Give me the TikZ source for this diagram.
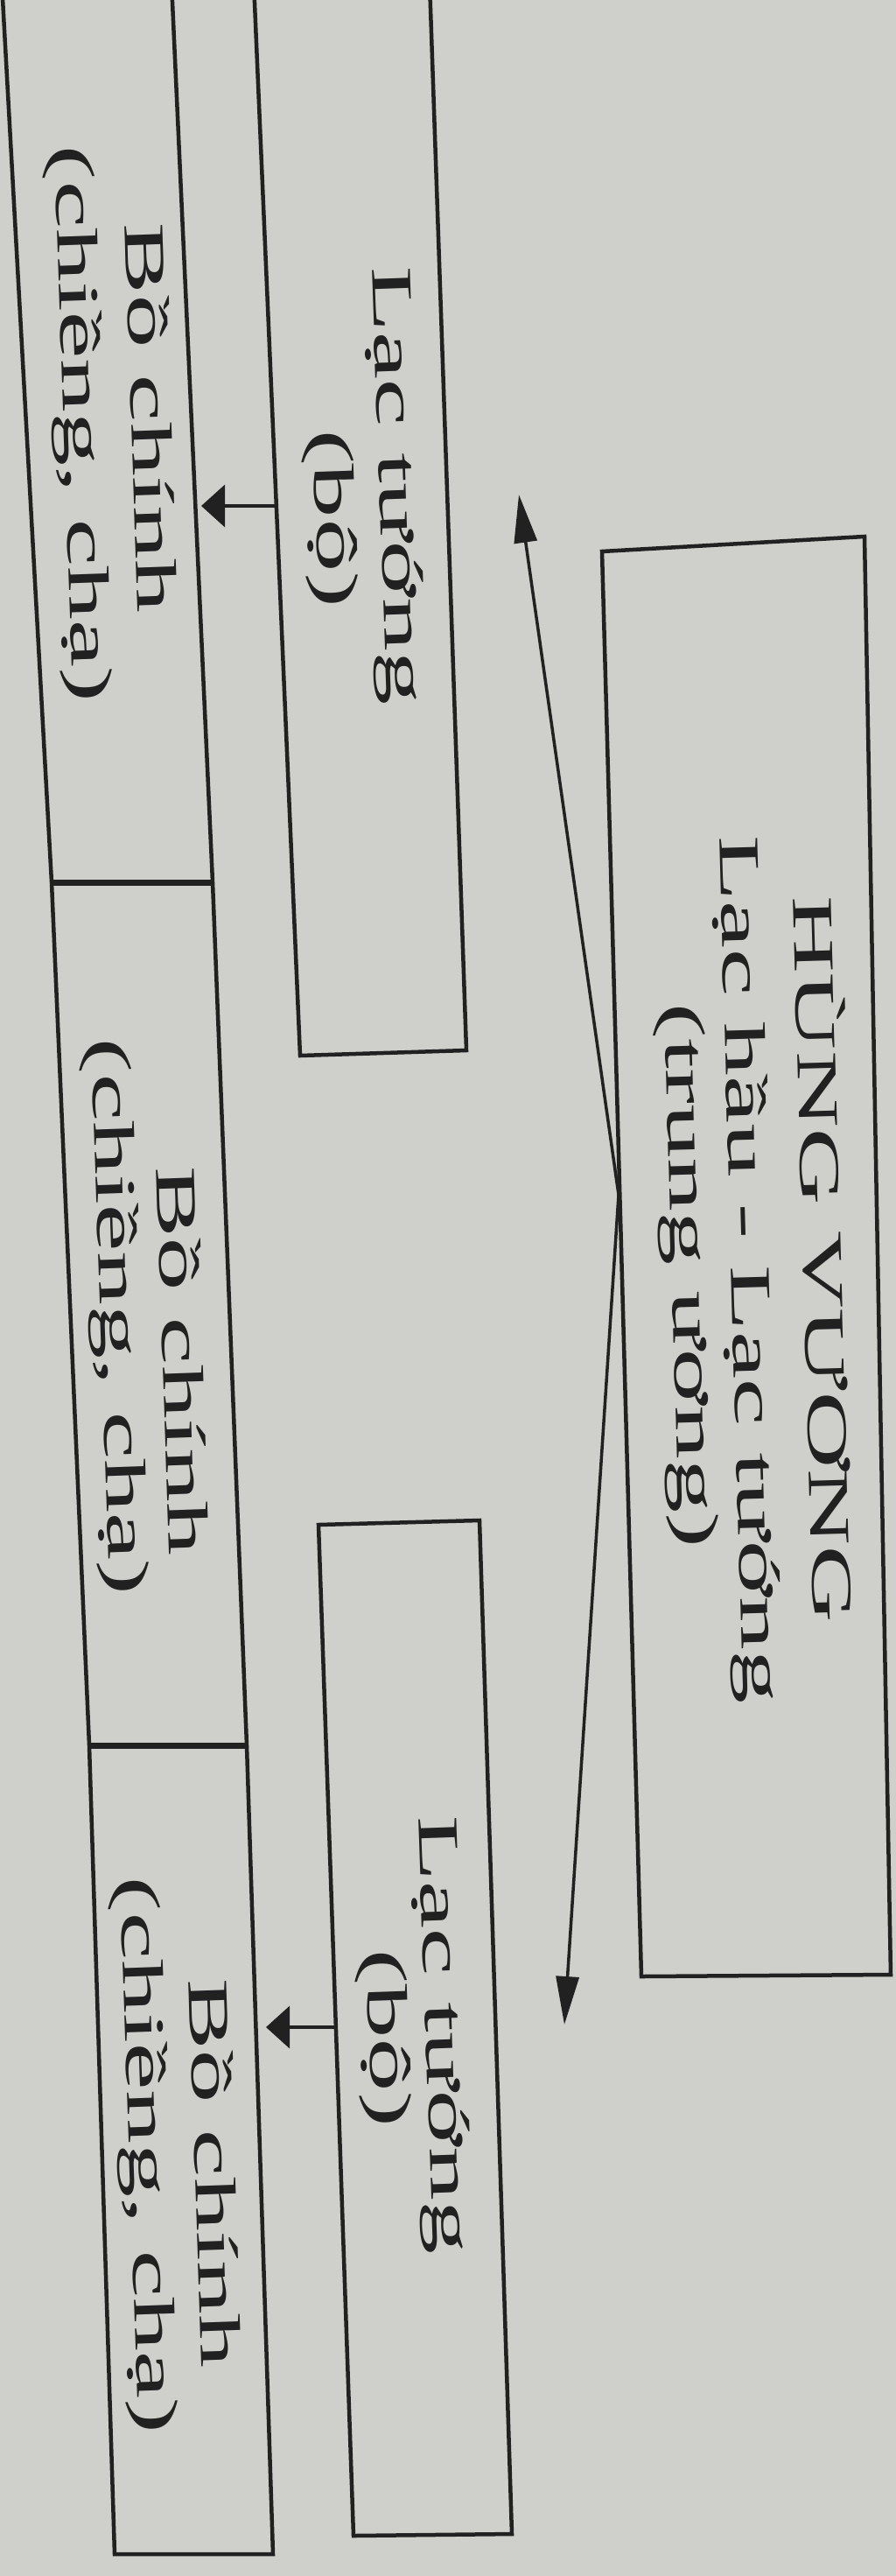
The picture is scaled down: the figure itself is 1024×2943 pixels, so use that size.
\documentclass[tikz,border=0pt]{standalone}
\usepackage{fontspec}
\setmainfont{Liberation Serif}
\usetikzlibrary{arrows.meta}
\definecolor{paper}{RGB}{207,208,204}
\definecolor{ink}{RGB}{33,33,33}
\tikzset{
  boxline/.style={draw=ink, line width=4.5pt, line join=miter},
  sepline/.style={draw=ink, line width=7pt},
  conn/.style={draw=ink, line width=3.5pt},
  txt/.style={rotate=#1, xscale=1.85, anchor=base, inner sep=0pt, text=ink, font=\fontsize{66}{78}\selectfont},
  txt/.default=-88,
  hhead/.style={-{Triangle[length=27pt,width=48pt]}},
  vhead/.style={-{Triangle[length=55pt,width=26pt]}}
}
\begin{document}
\begin{tikzpicture}[x=1pt,y=-1pt]
\useasboundingbox (0,0) rectangle (1024,2943);
\fill[paper] (0,0) rectangle (1024,2943);
\clip (0,0) rectangle (1024,2943);

% main box
\coordinate (m1) at (688,630);
\coordinate (m2) at (988,613);
\coordinate (m3) at (1018,2256);
\coordinate (m4) at (733,2258);
\draw[boxline] (m1)--(m2)--(m3)--(m4)--cycle;

% upper Lac tuong box (top cut)
\coordinate (l1) at (290,-20);
\coordinate (l2) at (491,-20);
\coordinate (l3) at (533,1200);
\coordinate (l4) at (343,1206);
\draw[boxline] (l1)--(l4)--(l3)--(l2);

% lower Lac tuong box
\coordinate (r1) at (364,1742);
\coordinate (r2) at (548,1737);
\coordinate (r3) at (585,2895);
\coordinate (r4) at (404,2897);
\draw[boxline] (r1)--(r2)--(r3)--(r4)--cycle;

% chain of Bo chinh boxes
\coordinate (c1) at (2,-20);
\coordinate (c2) at (59,1008);
\coordinate (c3) at (102,1994);
\coordinate (c4) at (131,2918);
\coordinate (d1) at (196,-20);
\coordinate (d2) at (243,1008);
\coordinate (d3) at (282,1994);
\coordinate (d4) at (312,2918);
\draw[boxline] (c1)--(c2)--(c3)--(c4)--(d4)--(d3)--(d2)--(d1);
\draw[sepline] (c2)--(d2);
\draw[sepline] (c3)--(d3);

% texts
\node[txt=-88.4] (hv1) at (918,1440) {HÙNG VƯƠNG};
\node[txt=-88.4] (hv2) at (836,1451) {Lạc hầu - Lạc tướng};
\node[txt=-88.4] (hv3) at (768,1458) {(trung ương)};
\node[txt] (lt1a) at (434,555) {Lạc tướng};
\node[txt] (lt1b) at (361,593) {(bộ)};
\node[txt] (bc1a) at (150,478) {Bồ chính};
\node[txt] (bc1b) at (73,485) {(chiềng, chạ)};
\node[txt] (bc2a) at (186,1555) {Bồ chính};
\node[txt] (bc2b) at (115,1505) {(chiềng, chạ)};
\node[txt] (bc3a) at (223,2483) {Bồ chính};
\node[txt] (bc3b) at (148,2463) {(chiềng, chạ)};
\node[txt] (lt2a) at (487,2325) {Lạc tướng};
\node[txt] (lt2b) at (422,2329) {(bộ)};

% connectors
\coordinate (a1s) at (318,578);
\coordinate (a1e) at (230,578);
\coordinate (a2s) at (384,2316);
\coordinate (a2e) at (304,2316);
\coordinate (j) at (707,1365);
\coordinate (t1) at (593,565);
\coordinate (t2) at (645,2313);
\draw[conn,hhead] (a1s) -- (a1e);
\draw[conn,hhead] (a2s) -- (a2e);
\draw[conn,vhead] (j) -- (t1);
\draw[conn,vhead] (j) -- (t2);
\end{tikzpicture}
\end{document}
